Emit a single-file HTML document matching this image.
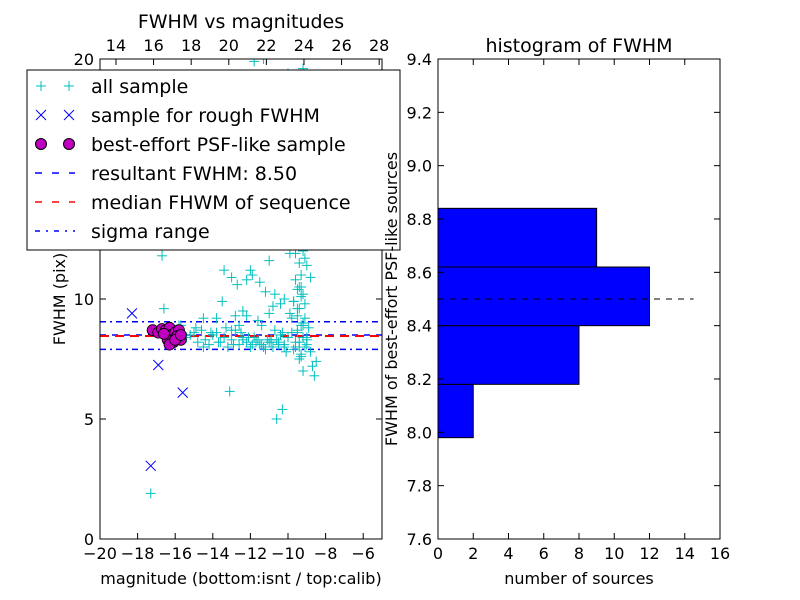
<!DOCTYPE html>
<html><head><meta charset="utf-8"><style>
body{margin:0;background:#fff;}
svg{display:block;font-family:"DejaVu Sans","Liberation Sans",sans-serif;}
</style></head><body>
<svg id="fig" width="800" height="600"></svg>
<script>
// ---- data ----
const allMag = [-17.3,-16.7,-16.7,-16.4,-16.0,-15.8,-15.4,-15.2,-15.0,-14.8,-14.6,-14.4,-14.2,-14.0,-13.8,-13.6,-13.4,-13.2,-13.0,-12.8,-12.6,-12.4,-12.2,-12.0,-11.8,-11.6,-11.4,-11.2,-11.0,-10.8,-10.6,-10.4,-10.2,-10.0,-9.8,-9.6,-9.4,-9.2,-9.0,-14.9,-14.5,-14.1,-13.7,-13.3,-12.9,-12.5,-12.1,-11.7,-11.3,-10.9,-10.5,-10.1,-9.7,-9.3,-13.1,-10.6,-10.3,-16.6,-15.7,-13.4,-13.0,-12.7,-12.2,-11.9,-11.5,-11.2,-11.0,-10.7,-10.4,-10.2,-9.9,-9.7,-9.5,-9.3,-9.1,-8.9,-8.7,-8.5,-9.6,-9.4,-9.2,-9.0,-8.8,-9.7,-9.5,-9.3,-9.1,-9.6,-9.4,-9.2,-9.8,-9.5,-9.3,-9.6,-9.4,-9.2,-9.5,-9.3,-9.7,-9.4,-9.2,-9.0,-8.8,-8.6,-9.1,-8.9,-8.7,-13.5,-12.8,-12.4,-11.6,-11.0,-10.8,-12.2,-13.8,-14.5,-10.4,-9.9,-11.8,-11.3,-10.0,-9.5,-9.2,-10.9,-12.0,-11.4,-13.0,-12.6,-10.7,-10.3,-9.6,-9.4,-9.3,-9.5,-9.2,-9.4,-9.6,-9.3,-9.1,-9.5,-9.4,-9.2,-9.3,-9.5,-9.0,-9.4,-9.2,-9.6,-9.3,-9.1,-11.5,-11.1,-10.8,-10.5,-12.4,-11.9,-10.9,-10.2];
const allFwhm = [1.9,12.2,11.8,8.7,8.3,8.9,8.4,8.5,8.6,8.2,8.7,8.3,8.1,8.5,8.6,8.2,8.4,8.0,8.3,8.7,8.1,8.3,8.2,8.0,8.4,8.3,8.1,7.9,8.2,8.0,8.3,8.5,8.1,8.4,8.6,8.2,8.0,8.4,8.3,8.8,8.0,8.6,8.2,8.8,8.1,8.6,8.4,8.2,8.0,8.3,8.1,7.8,7.9,7.7,6.15,5.0,5.4,9.6,8.9,11.2,10.9,10.6,10.8,11.0,10.7,10.3,11.6,10.2,9.8,10.0,9.4,9.9,10.4,11.0,9.2,8.8,7.2,7.4,12.5,13.2,12.0,11.4,10.9,14.0,15.1,13.6,12.8,16.5,17.8,19.6,9.2,9.6,10.1,8.0,7.5,7.0,8.6,8.9,9.9,10.5,9.0,8.4,7.8,6.8,11.7,12.4,13.0,9.9,9.3,9.5,9.1,9.4,9.7,9.3,9.2,9.2,12.4,11.9,19.9,20.0,19.4,18.7,18.3,12.6,11.2,8.9,8.7,8.9,8.7,8.6,10.8,11.5,12.2,12.9,10.2,9.6,11.9,10.5,9.8,8.7,8.2,8.9,7.6,9.3,8.1,13.4,14.4,15.8,16.9,8.0,8.1,8.3,8.0,8.2,8.4,8.1,8.2,8.0];
const roughMag = [-18.3,-16.9,-15.6,-17.3];
const roughFwhm = [9.4,7.25,6.1,3.05];
const psfMag = [-17.2,-16.9,-16.7,-16.5,-16.3,-16.2,-16.0,-15.9,-15.8,-15.7,-16.4,-16.1,-15.9,-16.6,-16.3,-16.0,-15.7];
const psfFwhm = [8.7,8.6,8.75,8.7,8.8,8.5,8.6,8.4,8.7,8.3,8.3,8.2,8.45,8.55,8.1,8.3,8.5];
const resultFwhm = 8.50, medianFwhm = 8.46, sigLo = 7.9, sigHi = 9.05;
const xTicks = [-20,-18,-16,-14,-12,-10,-8,-6];
const topTicks = [14,16,18,20,22,24,26,28];
const yTicks = [0,5,10,15,20];
const binLo = [7.98,8.18,8.40,8.62];
const binHi = [8.18,8.40,8.62,8.84];
const binCount = [2,8,12,9];
const hxTicks = [0,2,4,6,8,10,12,14,16];
const hyTicks = [7.6,7.8,8.0,8.2,8.4,8.6,8.8,9.0,9.2,9.4];

// ---- axes ----
const L={x0:100,x1:382,y0:59,y1:539}, R={x0:438,x1:720,y0:59,y1:539};
const sx=m=>L.x0+(m+20)*(L.x1-L.x0)/15;
const stx=m=>sx(m-33.15);
const sy=f=>L.y1-f*(L.y1-L.y0)/20;
const hx=n=>R.x0+n*(R.x1-R.x0)/16;
const hy=f=>R.y1-(f-7.6)*(R.y1-R.y0)/1.8;
const NS='http://www.w3.org/2000/svg', svg=document.getElementById('fig');
function mk(t,a,p){const e=document.createElementNS(NS,t);for(const k in a)e.setAttribute(k,a[k]);(p||svg).appendChild(e);return e;}
function txt(x,y,s,anchor,size,p){const e=mk('text',{x:x,y:y,'text-anchor':anchor||'middle','font-size':size||16,fill:'#000'},p);e.textContent=s;return e;}

const defs=mk('defs',{});
const cp=mk('clipPath',{id:'cl'},defs);mk('rect',{x:L.x0,y:L.y0,width:L.x1-L.x0,height:L.y1-L.y0},cp);
const gL=mk('g',{'clip-path':'url(#cl)'});



let e;
e=mk('line',{x1:L.x0,x2:L.x1,y1:sy(resultFwhm),y2:sy(resultFwhm),stroke:'#00f','stroke-width':1.5,'stroke-dasharray':'6,6'},gL);

e=mk('line',{x1:L.x0,x2:L.x1,y1:sy(medianFwhm),y2:sy(medianFwhm),stroke:'#f00','stroke-width':2,'stroke-dasharray':'9,6'},gL);

[sigLo,sigHi].forEach(v=>{const l=mk('line',{x1:L.x0,x2:L.x1,y1:sy(v),y2:sy(v),stroke:'#00f','stroke-width':1.5,'stroke-dasharray':'6,4,2,4'},gL);
});

function plus(x,y,c,p){const g=mk('g',{stroke:c,'stroke-width':1},p);mk('line',{x1:x-5,x2:x+5,y1:y,y2:y},g);mk('line',{x1:x,x2:x,y1:y-5,y2:y+5},g);return g;}
function cross(x,y,c,p){const g=mk('g',{stroke:c,'stroke-width':1},p);mk('line',{x1:x-5,x2:x+5,y1:y-5,y2:y+5},g);mk('line',{x1:x-5,x2:x+5,y1:y+5,y2:y-5},g);return g;}
allMag.forEach((m,i)=>{const g=plus(sx(m),sy(allFwhm[i]),'#00bfbf',gL);
});
roughMag.forEach((m,i)=>{const g=cross(sx(m),sy(roughFwhm[i]),'#00f',gL);
});
psfMag.forEach((m,i)=>{const c=mk('circle',{cx:sx(m),cy:sy(psfFwhm[i]),r:5.5,fill:'#bf00bf',stroke:'#000','stroke-width':0.8},gL);
});

mk('rect',{x:L.x0,y:L.y0,width:L.x1-L.x0,height:L.y1-L.y0,fill:'none',stroke:'#000'});
xTicks.forEach(v=>{const x=sx(v);if(x>L.x1+1)return;mk('line',{x1:x,x2:x,y1:L.y1,y2:L.y1-6,stroke:'#000'});
const t=txt(x,L.y1+20,'\u2212'.repeat(v<0?1:0)+Math.abs(v));});
topTicks.forEach(v=>{const x=stx(v);mk('line',{x1:x,x2:x,y1:L.y0,y2:L.y0+6,stroke:'#000'});
const t=txt(x,L.y0-8,String(v));});
yTicks.forEach(v=>{const y=sy(v);mk('line',{x1:L.x0,x2:L.x0+6,y1:y,y2:y,stroke:'#000'});mk('line',{x1:L.x1,x2:L.x1-6,y1:y,y2:y,stroke:'#000'});
const t=txt(L.x0-6,y+6,String(v),'end');});
e=txt(241,28,'FWHM vs magnitudes','middle',19);
e=txt(241,584,'magnitude (bottom:isnt / top:calib)');
e=txt(0,0,'FWHM (pix)');e.setAttribute('transform','translate(65,299) rotate(-90)');

const lg=mk('g',{});
mk('rect',{x:27,y:70,width:373,height:180,fill:'#fff',stroke:'#000'},lg);
const labels=['all sample','sample for rough FWHM','best-effort PSF-like sample','resultant FWHM: 8.50','median FHWM of sequence','sigma range'];
labels.forEach((s,i)=>{const y=86+i*29;
const g=mk('g',{},lg);
if(i==0){plus(41,y,'#00bfbf',g);plus(69,y,'#00bfbf',g);}
if(i==1){cross(41,y,'#00f',g);cross(69,y,'#00f',g);}
if(i==2){mk('circle',{cx:41,cy:y,r:5.5,fill:'#bf00bf',stroke:'#000'},g);mk('circle',{cx:69,cy:y,r:5.5,fill:'#bf00bf',stroke:'#000'},g);}
if(i==3)mk('line',{x1:35,x2:75,y1:y,y2:y,stroke:'#00f','stroke-width':1.5,'stroke-dasharray':'7,10'},g);
if(i==4)mk('line',{x1:35,x2:75,y1:y,y2:y,stroke:'#f00','stroke-width':1.5,'stroke-dasharray':'7,10'},g);
if(i==5)mk('line',{x1:35,x2:75,y1:y,y2:y,stroke:'#00f','stroke-width':1.5,'stroke-dasharray':'5,6,2,6'},g);
txt(91,y+7,s,'start',19,g);});

binLo.forEach((lo,i)=>{const r=mk('rect',{x:hx(0),y:hy(binHi[i]),width:hx(binCount[i])-hx(0),height:hy(lo)-hy(binHi[i]),fill:'#00f',stroke:'#000'});
});
e=mk('line',{x1:hx(0),x2:hx(14.5),y1:hy(resultFwhm),y2:hy(resultFwhm),stroke:'#000','stroke-dasharray':'6,6'});

mk('rect',{x:R.x0,y:R.y0,width:R.x1-R.x0,height:R.y1-R.y0,fill:'none',stroke:'#000'});
hxTicks.forEach(v=>{const x=hx(v);mk('line',{x1:x,x2:x,y1:R.y1,y2:R.y1-6,stroke:'#000'});mk('line',{x1:x,x2:x,y1:R.y0,y2:R.y0+6,stroke:'#000'});
const t=txt(x,R.y1+20,String(v));});
hyTicks.forEach(v=>{const y=hy(v);mk('line',{x1:R.x0,x2:R.x0+6,y1:y,y2:y,stroke:'#000'});mk('line',{x1:R.x1,x2:R.x1-6,y1:y,y2:y,stroke:'#000'});
const t=txt(R.x0-6,y+6,v.toFixed(1),'end');});
e=txt(579,52,'histogram of FWHM','middle',19);
e=txt(579,584,'number of sources');
e=txt(0,0,'FWHM of best-effort PSF-like sources');e.setAttribute('transform','translate(397,299) rotate(-90)');
</script>
</body></html>
